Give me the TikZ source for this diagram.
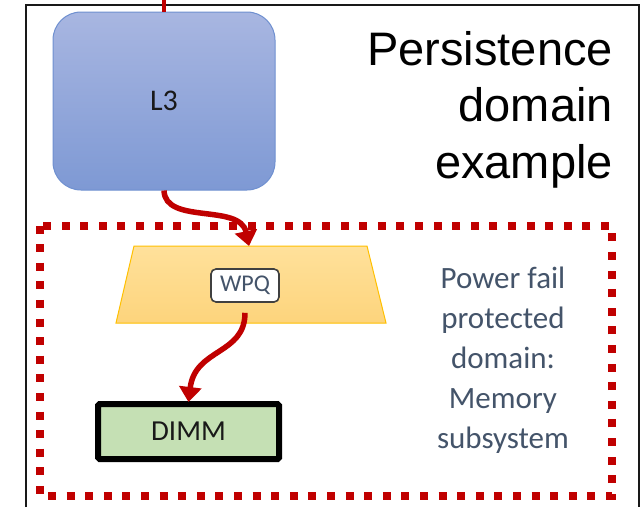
\documentclass[tikz,border=0pt]{standalone}
\usepackage{fontspec}
\setmainfont{Carlito}
\newfontfamily\titlefont{Liberation Sans}
\usetikzlibrary{arrows.meta}
\definecolor{darkred}{HTML}{C00000}
\definecolor{slate}{HTML}{44546A}
\definecolor{lthreetop}{HTML}{A8B6E1}
\definecolor{lthreebot}{HTML}{7E99D4}
\definecolor{lthreeline}{HTML}{6F90D0}
\definecolor{buftop}{HTML}{FFE19B}
\definecolor{bufbot}{HTML}{FDD47C}
\definecolor{bufline}{HTML}{FFC000}
\definecolor{dimmfill}{HTML}{C5E0B4}
\tikzset{
  flowarrow/.style={draw=darkred, line width=5.5pt, -{Triangle[width=22pt,length=15pt]}},
  cachebox/.style={draw=lthreeline, line width=1pt, rounded corners=28pt, top color=lthreetop, bottom color=lthreebot, minimum width=222pt, minimum height=178pt, font=\fontsize{30}{36}\selectfont, text=black!90},
  wpqbox/.style={draw=black!75, line width=1.6pt, fill=white, rounded corners=5pt, minimum width=68pt, minimum height=33pt, inner sep=0pt, font=\fontsize{24}{28}\selectfont, text=slate},
  dimmbox/.style={draw=black, line width=6pt, fill=dimmfill, rounded corners=1.5pt, minimum width=181pt, minimum height=55pt, inner sep=0pt, font=\fontsize{29}{34}\selectfont, text=black!90},
}
\begin{document}
\begin{tikzpicture}[x=1pt,y=-1pt]
\useasboundingbox (0,0) rectangle (641,507);
\fill[white] (0,0) rectangle (641,507);
% outer frame
\draw[line width=2.4pt, black!90] (26,507) -- (26,5) -- (639,5) -- (639,507);
% title
\node[anchor=north east, inner sep=0pt, align=right, font=\titlefont\fontsize{47}{56.5}\selectfont] (title) at (613,31) {Persistence\\domain\\example};
% L3
\node[cachebox] (l3) at (164,101) {L3};
\coordinate (above) at (164,0);
\draw[darkred, line width=4pt] (above) -- (l3.north);
% protected domain border
\draw[darkred, line width=8pt, dash pattern=on 8pt off 10.6pt] (39.5,225.5) rectangle (611.7,496);
% buffer trapezoid
\path[draw=bufline, line width=1pt, top color=buftop, bottom color=bufbot] (134,246) -- (367,246) -- (386,323) -- (116,323) -- cycle;
\coordinate (buftopin) at (249,246);
% domain text
\node[inner sep=0pt, align=center, text=slate, font=\fontsize{31}{40}\selectfont] (dom) at (503,360) {Power fail\\protected\\domain:\\Memory\\subsystem};
% WPQ
\node[wpqbox] (wpq) at (245,285.5) {WPQ};
% DIMM
\node[dimmbox] (dimm) at (188.5,431.5) {DIMM};
% arrows
\draw[flowarrow] (l3.south) .. controls (165,225) and (240,203) .. (buftopin);
\draw[flowarrow] ([yshift=-10pt]wpq.south) .. controls (245,355) and (195,348) .. ([yshift=-1pt]dimm.north);
\end{tikzpicture}
\end{document}
